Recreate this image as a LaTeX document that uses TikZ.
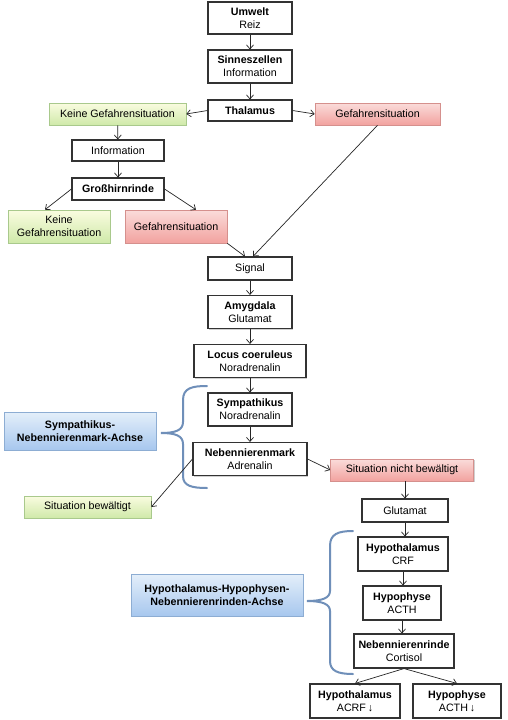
\documentclass[tikz,border=0pt]{standalone}
\usepackage{fontspec}
\setmainfont{Liberation Sans}
\usetikzlibrary{arrows.meta,shadows,calc}
\definecolor{grnT}{HTML}{FAFCE0}
\definecolor{grnBot}{HTML}{CFE9A9}
\definecolor{grnB}{HTML}{A9C98C}
\definecolor{redT}{HTML}{FADCDA}
\definecolor{redBot}{HTML}{F2A29F}
\definecolor{redB}{HTML}{D5908D}
\definecolor{bluT}{HTML}{E4EFFA}
\definecolor{bluBot}{HTML}{A7C7EE}
\definecolor{bluB}{HTML}{8DADD3}
\definecolor{braceC}{HTML}{6F8FB9}
\begin{document}
\begin{tikzpicture}[x=1pt,y=-1pt,
  box/.style={draw=black!80, line width=1.1pt, fill=white, inner sep=0pt, align=center,
    font=\fontsize{10.7}{13}\selectfont,
    drop shadow={shadow xshift=1.2pt,shadow yshift=-1.2pt,opacity=0.3,fill=black!60}},
  greenbox/.style={box, draw=grnB, line width=0.6pt, top color=grnT, bottom color=grnBot},
  redbox/.style={box, draw=redB, line width=0.6pt, top color=redT, bottom color=redBot},
  bluebox/.style={box, draw=bluB, line width=0.6pt, top color=bluT, bottom color=bluBot, font=\fontsize{10.7}{13}\selectfont\bfseries},
  arr/.style={-{Straight Barb[length=4pt,width=7pt]}, line width=0.7pt, black!85},
  bracestyle/.style={draw=braceC, line width=2pt, line cap=round}
]
\useasboundingbox (0,0) rectangle (508,720);
\fill[white] (0,0) rectangle (508,720);

% main column
\node[box, minimum width=84, minimum height=32] (umwelt) at (250,18) {\textbf{Umwelt}\\Reiz};
\node[box, minimum width=84, minimum height=33] (sinnes) at (250,66.5) {\textbf{Sinneszellen}\\Information};
\node[box, minimum width=84, minimum height=21] (thal) at (250,110.5) {\textbf{Thalamus}};
\node[greenbox, minimum width=137, minimum height=22] (keine1) at (117.5,114) {Keine Gefahrensituation};
\node[redbox, minimum width=125, minimum height=22] (gef1) at (377.5,114) {Gefahrensituation};
\node[box, minimum width=92, minimum height=21] (info) at (118,150.5) {Information};
\node[box, minimum width=92, minimum height=22] (gross) at (118,189) {\textbf{Großhirnrinde}};
\node[greenbox, minimum width=102, minimum height=33] (keine2) at (59,226.5) {Keine\\Gefahrensituation};
\node[redbox, minimum width=102, minimum height=33] (gef2) at (176,226.5) {Gefahrensituation};
\node[box, minimum width=84, minimum height=23] (signal) at (250,268.5) {Signal};
\node[box, minimum width=84, minimum height=33] (amyg) at (250,312) {\textbf{Amygdala}\\Glutamat};
\node[box, minimum width=112, minimum height=33] (locus) at (250,361) {\textbf{Locus coeruleus}\\Noradrenalin};
\node[box, minimum width=84, minimum height=33] (symp) at (250,409.5) {\textbf{Sympathikus}\\Noradrenalin};
\node[box, minimum width=114, minimum height=33] (nnm) at (250,459) {\textbf{Nebennierenmark}\\Adrenalin};
\node[redbox, minimum width=143, minimum height=22] (snb) at (402,470) {Situation nicht bewältigt};
\node[greenbox, minimum width=127, minimum height=22] (sb) at (87.5,507) {Situation bewältigt};
\node[bluebox, minimum width=152, minimum height=38] (achse1) at (80,431) {Sympathikus-\\Nebennierenmark-Achse};

% lower column
\node[box, minimum width=86, minimum height=23] (glut) at (405,510.5) {Glutamat};
\node[box, minimum width=90, minimum height=34] (hypo) at (403,554) {\textbf{Hypothalamus}\\CRF};
\node[box, minimum width=78, minimum height=34] (hypoph) at (402,603) {\textbf{Hypophyse}\\ACTH};
\node[box, minimum width=100, minimum height=34] (nnr) at (404,651) {\textbf{Nebennierenrinde}\\Cortisol};
\node[box, minimum width=90, minimum height=34] (hypoA) at (355,701) {\textbf{Hypothalamus}\\ACRF\,↓};
\node[box, minimum width=88, minimum height=34] (hypophA) at (457,701) {\textbf{Hypophyse}\\ACTH\,↓};
\node[bluebox, minimum width=172, minimum height=42] (achse2) at (217,595) {Hypothalamus-Hypophysen-\\Nebennierenrinden-Achse};

% braces
\draw[bracestyle] (207,386) .. controls (192,386) and (183,388) .. (183,400) -- (183,422)
  .. controls (183,430) and (176,433) .. (161,433)
  .. controls (176,433) and (183,436) .. (183,444) -- (183,476)
  .. controls (183,486) and (192,488) .. (207,488);
\draw[bracestyle] (353,531) .. controls (338,531) and (330,534) .. (330,546) -- (330,591)
  .. controls (330,598) and (322,601) .. (307,601)
  .. controls (322,601) and (330,604) .. (330,611) -- (330,661)
  .. controls (330,671) and (338,674) .. (353,674);

% connectors
\draw[arr] (umwelt) -- (sinnes);
\draw[arr] (sinnes) -- (thal);
\draw[arr] (thal.west) -- (keine1.east);
\draw[arr] (thal.east) -- (gef1.west);
\draw[arr] (keine1) -- (info);
\draw[arr] (info) -- (gross);
\draw[arr] (gross.west) -- ($(keine2.north)+(-14,0)$);
\draw[arr] (gross.east) -- ($(gef2.north)+(20,0)$);
\draw[arr] (gef2.south east) -- ($(signal.north)+(-5,0)$);
\draw[arr] (gef1.south) -- ($(signal.north)+(3,0)$);
\draw[arr] (signal) -- (amyg);
\draw[arr] (amyg) -- (locus);
\draw[arr] (locus) -- (symp);
\draw[arr] (symp) -- (nnm);
\draw[arr] (nnm.east) -- (snb.west);
\draw[arr] (nnm.west) -- (sb.east);
\draw[arr] (snb.south -| glut.north) -- (glut.north);
\draw[arr] (glut.south) -- (glut.south |- hypo.north);
\draw[arr] (hypo.south) -- (hypo.south |- hypoph.north);
\draw[arr] (hypoph.south) -- (hypoph.south |- nnr.north);
\draw[arr] (nnr.south) -- (hypoA.north);
\draw[arr] (nnr.south) -- (hypophA.north);
\end{tikzpicture}
\end{document}
